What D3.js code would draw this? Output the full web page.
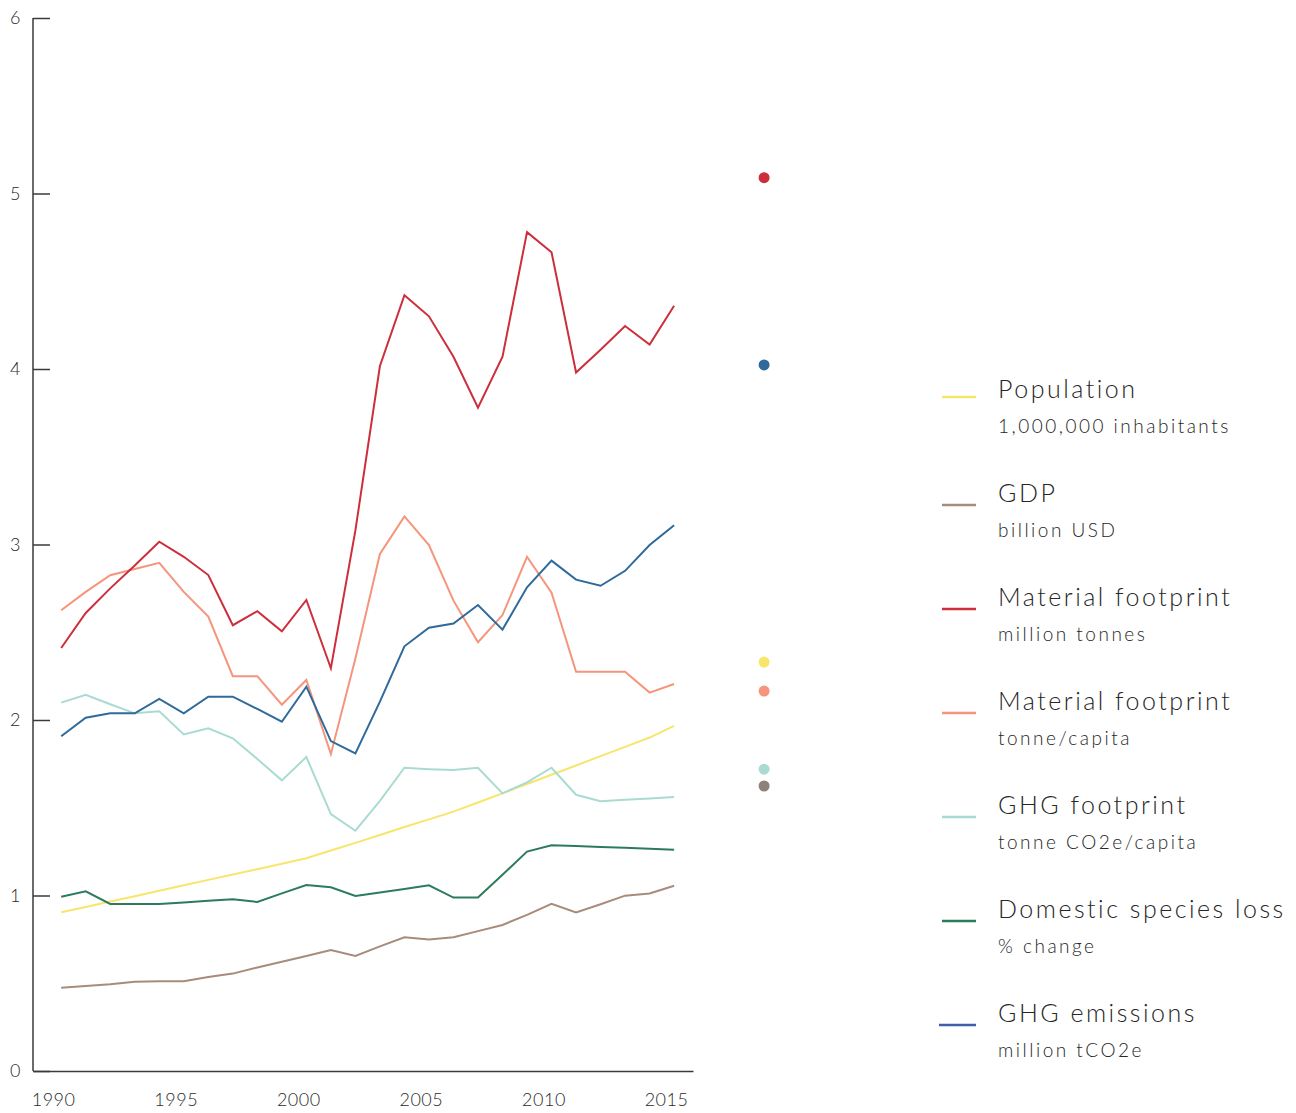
<!DOCTYPE html>
<html>
<head>
<meta charset="utf-8">
<script src="https://cdn.jsdelivr.net/npm/d3@7"></script>
<style>
  body { margin: 0; background: #fff; }
  svg { font-family: Lato, "Open Sans", sans-serif; }
  .axis { font-family: Lato, "Open Sans", sans-serif; }
  .axis text { fill: #2a2a2a; font-size: 18px; font-weight: 300; letter-spacing: 0.5px; }
  .axis path, .axis line { stroke: #3a3a3a; stroke-width: 1.5; }
  .title { font-size: 25px; font-weight: 300; letter-spacing: 2.5px; fill: #262626; }
  .unit { font-size: 19px; font-weight: 300; letter-spacing: 2.5px; fill: #262626; }
</style>
</head>
<body>
<svg width="1296" height="1113"></svg>
<script>
// years shared by all series
var years = d3.range(1990, 2016);

var population = [0.904, 0.935, 0.966, 0.996, 1.027, 1.058, 1.089, 1.12, 1.15, 1.181, 1.212, 1.256, 1.30, 1.345, 1.39, 1.434, 1.478, 1.53, 1.582, 1.635, 1.688, 1.741, 1.794, 1.847, 1.90, 1.966];
var gdp = [0.475, 0.484, 0.494, 0.508, 0.511, 0.511, 0.535, 0.555, 0.59, 0.623, 0.655, 0.689, 0.655, 0.71, 0.762, 0.75, 0.762, 0.797, 0.832, 0.89, 0.952, 0.904, 0.95, 0.999, 1.012, 1.056];
var materialTonnes = [2.41, 2.61, 2.75, 2.88, 3.016, 2.93, 2.826, 2.54, 2.62, 2.505, 2.684, 2.295, 3.08, 4.017, 4.42, 4.30, 4.07, 3.78, 4.07, 4.78, 4.665, 3.98, 4.11, 4.245, 4.14, 4.36];
var materialCapita = [2.625, 2.73, 2.825, 2.86, 2.896, 2.73, 2.589, 2.25, 2.25, 2.087, 2.228, 1.806, 2.35, 2.946, 3.16, 2.997, 2.68, 2.443, 2.598, 2.93, 2.725, 2.275, 2.275, 2.275, 2.156, 2.205];
var ghgFootprint = [2.099, 2.144, 2.09, 2.038, 2.05, 1.918, 1.953, 1.896, 1.778, 1.656, 1.789, 1.464, 1.369, 1.539, 1.728, 1.72, 1.715, 1.728, 1.582, 1.645, 1.728, 1.574, 1.537, 1.545, 1.553, 1.561];
var speciesLoss = [0.993, 1.024, 0.952, 0.952, 0.952, 0.96, 0.97, 0.978, 0.963, 1.012, 1.06, 1.047, 0.997, 1.017, 1.037, 1.058, 0.988, 0.988, 1.118, 1.25, 1.286, 1.282, 1.277, 1.272, 1.267, 1.261];
var ghgEmissions = [1.907, 2.013, 2.038, 2.038, 2.12, 2.038, 2.133, 2.133, 2.063, 1.99, 2.19, 1.88, 1.81, 2.105, 2.42, 2.526, 2.55, 2.655, 2.515, 2.756, 2.908, 2.80, 2.765, 2.85, 2.997, 3.11];

// single dots to the right of the lines
var dotValues = [5.09, 4.023, 2.33, 2.165, 1.72, 1.624];
var dotColors = ["#cc2f3b", "#2f6a9b", "#f8e56c", "#f5957b", "#a9dbd2", "#8e817a"];
var dotYear = 2019;

var legendNames = ["Population", "GDP", "Material footprint", "Material footprint", "GHG footprint", "Domestic species loss", "GHG emissions"];
var legendUnits = ["1,000,000 inhabitants", "billion USD", "million tonnes", "tonne/capita", "tonne CO2e/capita", "% change", "million tCO2e"];
var legendColors = ["#f8e56c", "#a88b7c", "#cc2f3b", "#f5957b", "#a9dbd2", "#2c7c5c", "#3e5fa9"];

var xTicks = [1990, 1995, 2000, 2005, 2010, 2015];
var yTicks = [0, 1, 2, 3, 4, 5, 6];

var series = [
    { values: population, color: "#f8e56c" },
    { values: gdp, color: "#a88b7c" },
    { values: speciesLoss, color: "#2c7c5c" },
    { values: ghgFootprint, color: "#a9dbd2" },
    { values: materialCapita, color: "#f5957b" },
    { values: ghgEmissions, color: "#2f6a9b" },
    { values: materialTonnes, color: "#cc2f3b" }
];

var svg = d3.select("svg");

var x = d3.scaleLinear().domain([1989.18, 2016.1]).range([33, 693]),
    y = d3.scaleLinear().domain([0, 6]).range([1071, 18]);

// points sit a third of a year to the right of the tick labels
var offset = 0.33;

svg.append("g")
    .attr("class", "axis")
    .attr("transform", "translate(0," + y(0) + ")")
    .call(d3.axisBottom(x).tickValues(xTicks).tickFormat(d3.format("d")).tickSize(0).tickPadding(22))
    .call(function (g) { g.attr("font-family", null); });

svg.append("g")
    .attr("class", "axis")
    .attr("transform", "translate(" + x.range()[0] + ",0)")
    .call(d3.axisLeft(y).tickValues(yTicks).tickFormat(d3.format("d")).tickSizeInner(-17).tickSizeOuter(0).tickPadding(12))
    .call(function (g) {
        g.attr("font-family", null);
        g.select(".domain").attr("d", "M0," + y(6) + "V" + y(0));
    });

var line = d3.line()
    .x(function (d, i) { return x(years[i] + offset); })
    .y(function (d) { return y(d); });

svg.append("g").selectAll("path")
    .data(series)
    .enter().append("path")
    .attr("d", function (d) { return line(d.values); })
    .attr("fill", "none")
    .attr("stroke", function (d) { return d.color; })
    .attr("stroke-width", 2)
    .attr("stroke-linejoin", "miter");

svg.append("g").selectAll("circle")
    .data(dotValues)
    .enter().append("circle")
    .attr("cx", x(dotYear))
    .attr("cy", function (d) { return y(d); })
    .attr("r", 5.5)
    .attr("fill", function (d, i) { return dotColors[i]; });

var legend = svg.append("g").attr("transform", "translate(942,398)");

var item = legend.selectAll("g")
    .data(legendNames)
    .enter().append("g")
    .attr("transform", function (d, i) { return "translate(0," + i * 104 + ")"; });

item.append("line")
    .attr("x1", function (d, i) { return i === 6 ? -3 : 0; })
    .attr("x2", 34)
    .attr("y1", function (d, i) { return i === 0 ? -1 : 3; })
    .attr("y2", function (d, i) { return i === 0 ? -1 : 3; })
    .attr("stroke", function (d, i) { return legendColors[i]; })
    .attr("stroke-width", 2.5);

item.append("text")
    .attr("class", "title")
    .attr("x", 56)
    .attr("y", 0)
    .text(function (d) { return d; });

item.append("text")
    .attr("class", "unit")
    .attr("x", 56)
    .attr("y", 35)
    .text(function (d, i) { return legendUnits[i]; });
</script>
</body>
</html>
